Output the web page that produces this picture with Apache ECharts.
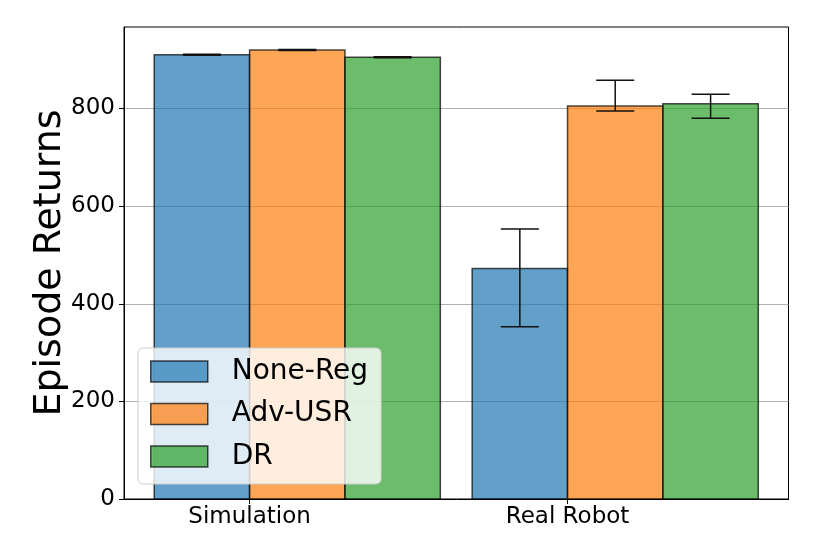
<!DOCTYPE html>
<html>
<head>
<meta charset="utf-8">
<script src="https://cdn.jsdelivr.net/npm/echarts@6/dist/echarts.min.js"></script>
<style>html,body{margin:0;padding:0;background:#fff;}#chart{width:830px;height:554px;}</style>
</head>
<body>
<div id="chart"></div>
<script>
// ---- data ----
const categories = ['Simulation', 'Real Robot'];
const seriesNames = ['None-Reg', 'Adv-USR', 'DR'];
const noneRegValues = [910, 472];
const noneRegLow = [909, 353];
const noneRegHigh = [911, 553];
const advUsrValues = [920, 805];
const advUsrLow = [919, 795];
const advUsrHigh = [921, 858];
const drValues = [905, 810];
const drLow = [904, 780];
const drHigh = [906, 829];
const yTicks = [0, 200, 400, 600, 800];

// ---- layout / style ----
const BAR_W = 0.3;
const OFFSETS = [-0.15, 0.15, 0.45];
const COLORS = ['rgba(31,119,180,0.7)', 'rgba(255,127,14,0.7)', 'rgba(44,160,44,0.7)'];
const EDGE = 'rgba(0,0,0,0.7)';
const FONT = 'DejaVu Sans';

const groups = [
  [noneRegValues, noneRegLow, noneRegHigh],
  [advUsrValues, advUsrLow, advUsrHigh],
  [drValues, drLow, drHigh]
];

const series = [];
groups.forEach((g, s) => {
  const data = categories.map((c, i) => [i + OFFSETS[s], g[0][i], g[1][i], g[2][i]]);
  series.push({
    name: seriesNames[s],
    type: 'custom',
    itemStyle: { color: COLORS[s], borderColor: EDGE, borderWidth: 1.5 },
    encode: { x: 0, y: 1 },
    data: data,
    z: 2,
    renderItem: function (params, api) {
      const x = api.value(0), y = api.value(1);
      const p0 = api.coord([x - BAR_W / 2, y]);
      const p1 = api.coord([x + BAR_W / 2, 0]);
      return {
        type: 'rect',
        shape: { x: p0[0], y: p0[1], width: p1[0] - p0[0], height: p1[1] - p0[1] },
        style: { fill: COLORS[s], stroke: EDGE, lineWidth: 1.5 }
      };
    }
  });
});
groups.forEach((g, s) => {
  const data = categories.map((c, i) => [i + OFFSETS[s], g[0][i], g[1][i], g[2][i]]);
  series.push({
    name: 'err-' + seriesNames[s],
    type: 'custom',
    encode: { x: 0, y: [2, 3] },
    data: data,
    z: 5,
    renderItem: function (params, api) {
      const x = api.value(0);
      const lo = api.coord([x, api.value(2)]);
      const hi = api.coord([x, api.value(3)]);
      const cap = 19;
      const st = { stroke: '#111', lineWidth: 1.5 };
      return {
        type: 'group',
        children: [
          { type: 'line', shape: { x1: lo[0], y1: lo[1], x2: hi[0], y2: hi[1] }, style: st },
          { type: 'line', shape: { x1: lo[0] - cap, y1: lo[1], x2: lo[0] + cap, y2: lo[1] }, style: st },
          { type: 'line', shape: { x1: hi[0] - cap, y1: hi[1], x2: hi[0] + cap, y2: hi[1] }, style: st }
        ]
      };
    }
  });
});

const chart = echarts.init(document.getElementById('chart'));
chart.setOption({
  animation: false,
  backgroundColor: '#fff',
  textStyle: { fontFamily: FONT },
  grid: { left: 124, right: 41.5, top: 27, bottom: 55, show: true, borderColor: '#000', borderWidth: 1, backgroundColor: 'transparent' },
  legend: {
    left: 138, top: 348,
    orient: 'vertical',
    padding: [9.5, 13, 13.5, 12],
    itemWidth: 57, itemHeight: 21, itemGap: 14.5,
    backgroundColor: 'rgba(255,255,255,0.8)',
    borderColor: '#cccccc', borderWidth: 1, borderRadius: 5,
    textStyle: { fontFamily: FONT, fontSize: 28, color: '#000', lineHeight: 28, padding: [0, 0, 0, 19] },
    data: seriesNames.map((n, s) => ({ name: n, icon: 'rect', itemStyle: { color: COLORS[s], borderColor: EDGE, borderWidth: 1.5 } }))
  },
  xAxis: {
    type: 'value',
    min: -0.395, max: 1.695,
    splitLine: { show: false },
    axisLine: { show: true, onZero: false, lineStyle: { color: '#000', width: 1 } },
    axisTick: { show: true, length: 5, lineStyle: { color: '#000' }, customValues: [0, 1] },
    axisLabel: { fontFamily: FONT, fontSize: 23, color: '#000', margin: 7, customValues: [0, 1], formatter: v => categories[Math.round(v)] }
  },
  yAxis: {
    type: 'value',
    min: 0, max: 967, interval: 200,
    name: 'Episode Returns', nameLocation: 'middle', nameGap: 55, nameMoveOverlap: false,
    nameTextStyle: { fontFamily: FONT, fontSize: 38, color: '#000' },
    splitLine: { show: true, lineStyle: { color: '#b0b0b0', width: 1 } },
    axisLine: { show: true, onZero: false, lineStyle: { color: '#000', width: 1 } },
    axisTick: { show: true, length: 5, lineStyle: { color: '#000' }, customValues: yTicks },
    axisLabel: { fontFamily: FONT, fontSize: 23, color: '#000', margin: 9, customValues: yTicks }
  },
  series: series
});
</script>
</body>
</html>
